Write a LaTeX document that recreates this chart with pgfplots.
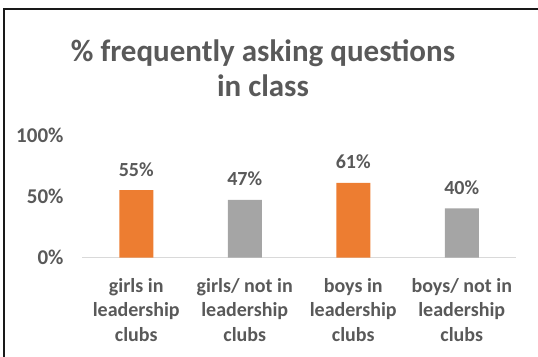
\documentclass[border=0pt]{standalone}
\usepackage{pgfplots}
\pgfplotsset{compat=1.18}
\usepackage{fontspec}
\setmainfont{Carlito}
\definecolor{cOrange}{HTML}{ED7D31}
\definecolor{cGray}{HTML}{A5A5A5}
\definecolor{cText}{HTML}{595959}
\definecolor{cAxis}{HTML}{D9D9D9}
\begin{document}
\begin{tikzpicture}
\path[use as bounding box] (0pt,0pt) rectangle (538pt,356pt);
\draw[line width=2pt,color=black!90] (4pt,-2pt) -- (4pt,347pt) -- (540pt,347pt);
\node[anchor=base,text=cText,font=\fontsize{31}{36}\selectfont\bfseries] at (263pt,294pt) {\% frequently asking questions};
\node[anchor=base,text=cText,font=\fontsize{31}{36}\selectfont\bfseries] at (263pt,259pt) {in class};
\begin{axis}[
  at={(82pt,98.5pt)}, anchor=south west,
  scale only axis, width=434pt, height=122.5pt,
  xmin=-0.5, xmax=3.5, ymin=0, ymax=100,
  axis x line*=bottom, axis y line*=left,
  x axis line style={draw=cAxis, line width=1pt},
  y axis line style={draw=none},
  major tick length=0pt,
  /pgf/number format/assume math mode=true,
  ytick={0,50,100}, yticklabels={0\%,50\%,100\%},
  yticklabel style={font=\fontsize{21}{25}\selectfont\bfseries, text=cText, xshift=-15pt},
  xtick={0,1,2,3},
  xticklabels={girls in\\leadership\\clubs, girls/ not in\\leadership\\clubs, boys in\\leadership\\clubs, boys/ not in\\leadership\\clubs},
  xticklabel style={font=\fontsize{20}{24.5}\selectfont\bfseries, text=cText, align=center, yshift=-17pt},
  ybar, bar width=34pt, bar shift=0pt,
  nodes near coords={\pgfmathprintnumber{\pgfplotspointmeta}\%},
  every node near coord/.append style={font=\fontsize{20}{24}\selectfont\bfseries, text=cText, anchor=base, yshift=14pt},
  clip=false,
]
\addplot[fill=cOrange, draw=none] coordinates {(0,55) (2,61)};
\addplot[fill=cGray, draw=none] coordinates {(1,47) (3,40)};
\end{axis}
\end{tikzpicture}
\end{document}
